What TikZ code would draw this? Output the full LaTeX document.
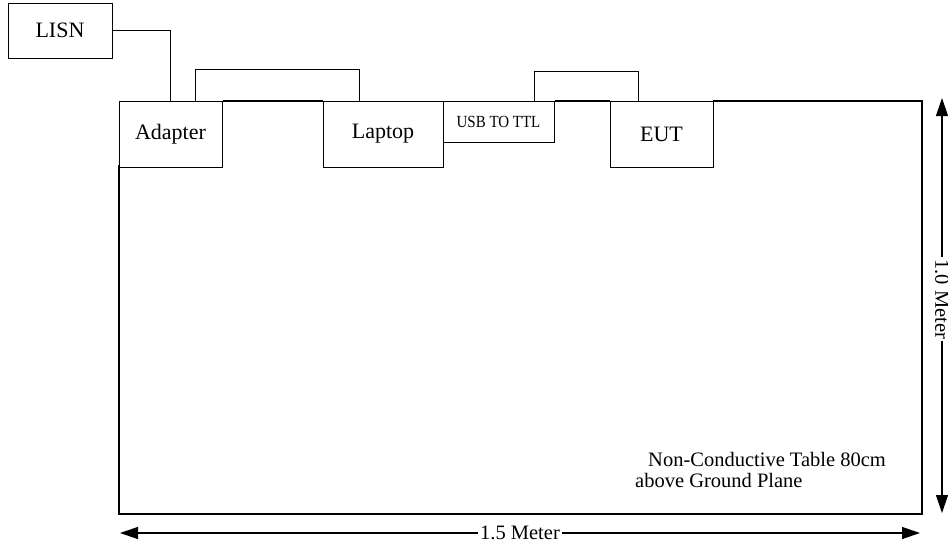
\documentclass[tikz,border=0pt]{standalone}
\usepackage{fontspec}
\setmainfont{Liberation Serif}
\usetikzlibrary{arrows.meta}
\begin{document}
\begin{tikzpicture}[x=1pt,y=-1pt,
  tablebox/.style={inner sep=0pt, outer sep=0pt, anchor=north west},
  tableline/.style={line width=2pt, line cap=rect, line join=miter},
  devbox/.style={draw, line width=0.9pt, fill=white, inner sep=0pt, outer sep=0pt, anchor=north west,
     font=\fontsize{22}{24}\selectfont},
  cable/.style={line width=0.9pt},
  dimline/.style={line width=1.2pt, {Triangle[length=18pt,width=12pt]}-{Triangle[length=18pt,width=12pt]}},
  dimlabel/.style={fill=white, inner xsep=2pt, inner ysep=1pt, font=\fontsize{20.5}{22}\selectfont}
]
\useasboundingbox (0,0) rectangle (948,550);
% table (outline drawn in pieces, hidden behind the devices)
\node[tablebox, minimum width=803pt, minimum height=413pt] (table) at (119,101) {};
% devices
\node[devbox, minimum width=104pt, minimum height=55pt] (lisn) at (8,3) {LISN};
\node[devbox, minimum width=103pt, minimum height=66pt] (adapter) at (119,101) {Adapter};
\node[devbox, minimum width=120pt, minimum height=66pt] (laptop) at (323,101) {Laptop};
\node[devbox, minimum width=111pt, minimum height=41pt, font=\fontsize{17}{18}\selectfont] (usb) at (443,101) {\scalebox{0.88}[1]{USB TO TTL}};
\node[devbox, minimum width=103pt, minimum height=66pt] (eut) at (610,101) {EUT};
\draw[tableline] ([yshift=1pt]adapter.south west) -- (table.south west) -- (table.south east) -- (table.north east) -- ([xshift=0.5pt]eut.north east);
\draw[tableline, line cap=butt] ([xshift=0.5pt]usb.north east) -- ([xshift=-0.5pt]eut.north west);
\draw[tableline, line cap=butt] ([xshift=0.5pt]adapter.north east) -- ([xshift=-0.5pt]laptop.north west);
% cables
\draw[cable] (lisn.east) -| (adapter.north);
\draw[cable] ([xshift=24.5pt]adapter.north) -- ++(0,-32) -| ([xshift=-24pt]laptop.north);
\draw[cable] ([xshift=35.5pt]usb.north) -- ++(0,-30) -| ([xshift=-23.5pt]eut.north);
% note
\node[anchor=north west, inner sep=0pt, align=left, font=\fontsize{20.5}{21}\selectfont] (note) at (635,452)
  {\hspace*{13pt}Non-Conductive Table 80cm\\above Ground Plane};
% dimensions
\coordinate (h1) at (120,533);
\coordinate (h2) at (920,533);
\coordinate (v1) at (942,98);
\coordinate (v2) at (942,513);
\draw[dimline] (h1) -- node[dimlabel] (hlab) {1.5 Meter} (h2);
\draw[dimline] (v1) -- node[dimlabel, rotate=-90, pos=0.485] (vlab) {1.0 Meter} (v2);
\end{tikzpicture}
\end{document}
